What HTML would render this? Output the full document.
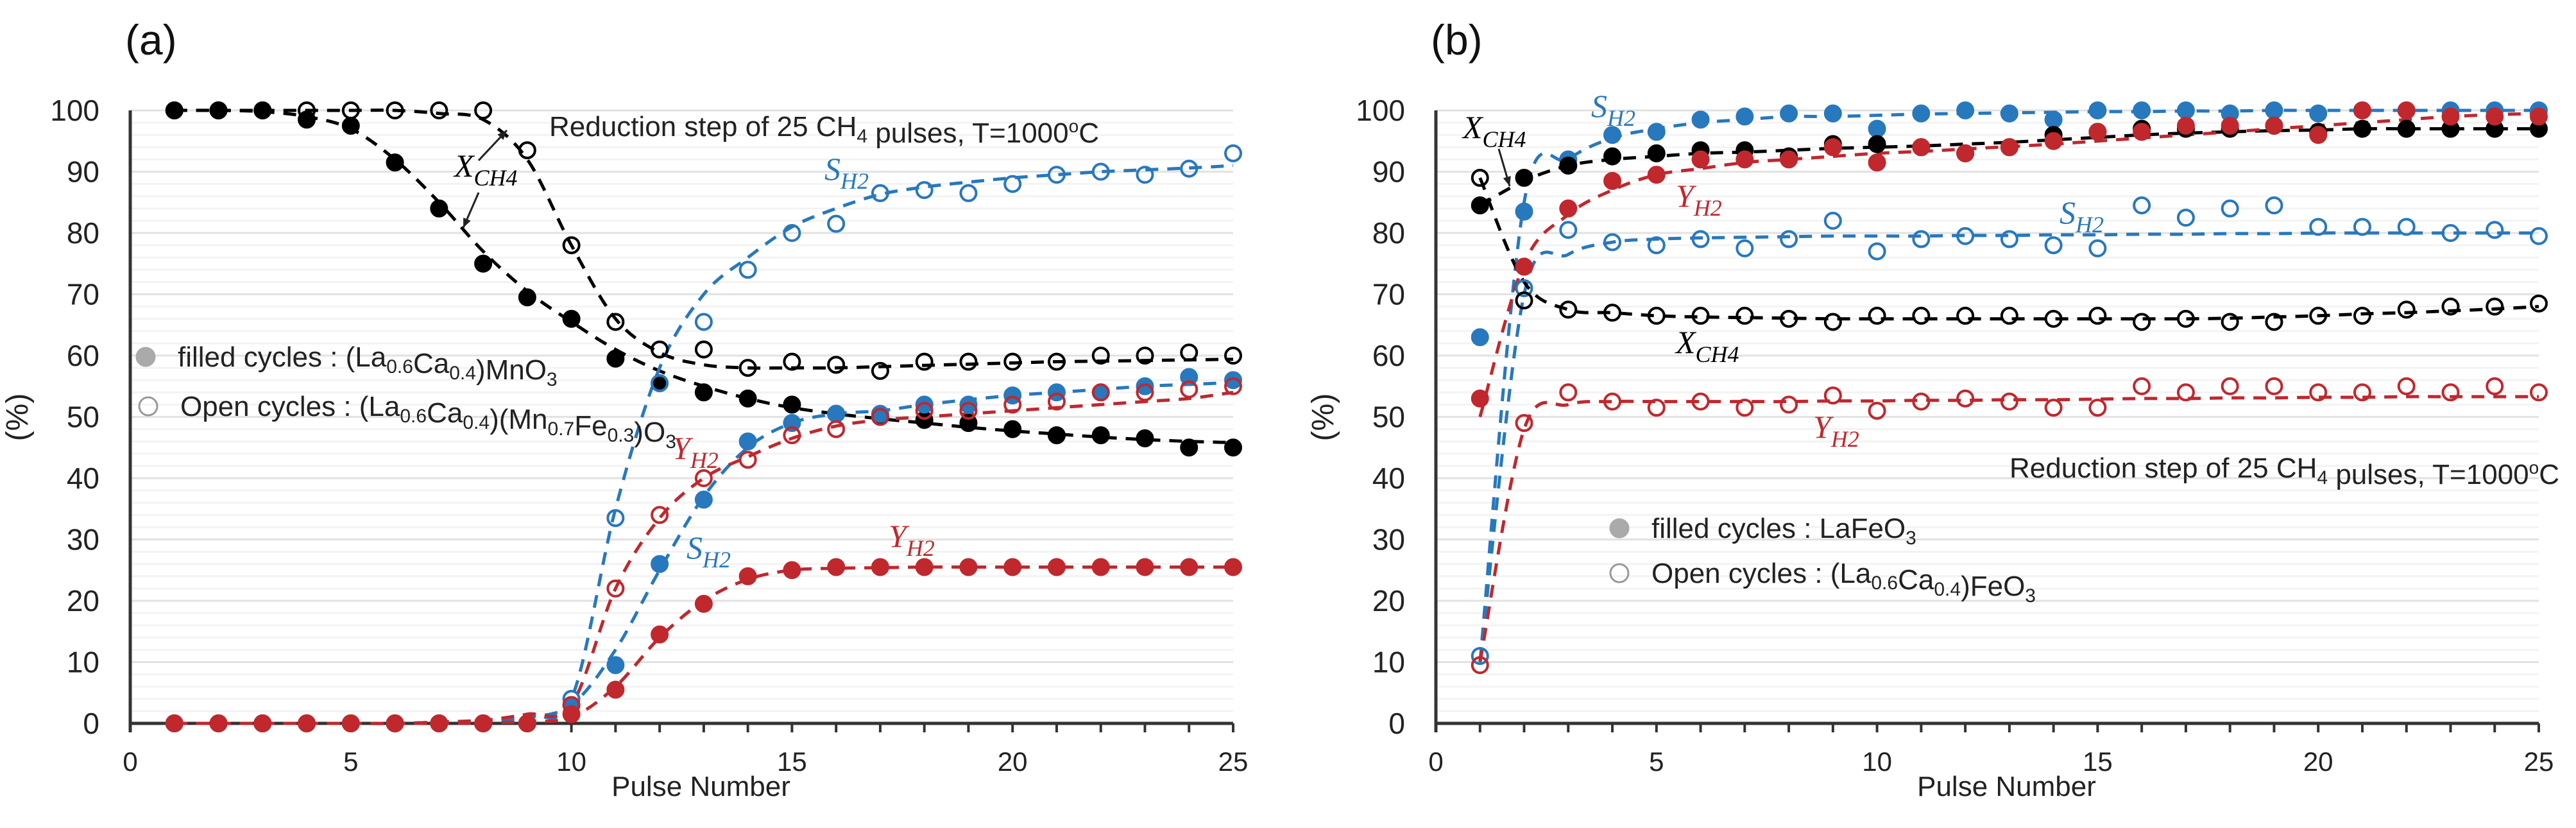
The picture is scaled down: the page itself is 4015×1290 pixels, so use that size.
<!DOCTYPE html>
<html><head><meta charset="utf-8"><style>
html,body{margin:0;padding:0;background:#fff;}
svg{display:block;font-family:"Liberation Sans",sans-serif;}
</style></head><body>
<svg id="chart" width="4015" height="1290" viewBox="0 0 4015 1290" xmlns="http://www.w3.org/2000/svg"></svg>
<script>
const pulses=[1,2,3,4,5,6,7,8,9,10,11,12,13,14,15,16,17,18,19,20,21,22,23,24,25];
const xTicks=[0,5,10,15,20,25];
const yTicks=[0,10,20,30,40,50,60,70,80,90,100];
// Panel (a)
const aXF=[100,100,100,98.5,97.5,91.5,84,75,69.5,66,59.5,55.5,54,53,52,50.5,50,49.5,49,48,47,47,46.5,45,45];
const aXO=[100,100,100,100,100,100,100,100,93.5,78,65.5,61,61,58,59,58.5,57.5,59,59,59,59,60,60,60.5,60];
const aSF=[0,0,0,0,0,0,0,0,0,3,9.5,26,36.5,46,49,50.5,50.5,52,52,53.5,54,54,55,56.5,56];
const aSO=[0,0,0,0,0,0,0,0,0,4,33.5,55.5,65.5,74,80,81.5,86.5,87,86.5,88,89.5,90,89.5,90.5,93];
const aYF=[0,0,0,0,0,0,0,0,0,1.5,5.5,14.5,19.5,24,25,25.5,25.5,25.5,25.5,25.5,25.5,25.5,25.5,25.5,25.5];
const aYO=[0,0,0,0,0,0,0,0,0,3,22,34,40,43,47,48,50,51,51,52,52.5,54,54,54.5,55];
const aXFfit=[100,100,99.8,99,97,92,85,77,70.5,65.5,61,57.5,55,53,51.5,50.5,49.7,49,48.3,47.7,47.2,46.7,46.3,46,45.8];
const aXOfit=[100,100,100,100,100,100,99.5,98.5,92,78,66,60.5,58.5,58,58,58,58.2,58.4,58.6,58.8,59,59.1,59.2,59.3,59.4];
const aSFfit=[0,0,0,0,0,0,0.2,0.5,1,3,12,25,37,45,49,50.5,51,52,52.8,53.5,54,54.5,55,55.3,55.6];
const aSOfit=[0,0,0,0,0,0,0.2,0.5,1.5,4,35,58,70,76,81,84,86.3,87.5,88.3,89,89.5,90,90.3,90.6,91];
const aYFfit=[0,0,0,0,0,0,0,0.1,0.3,1,6,14,20,23.5,25,25.3,25.4,25.5,25.5,25.5,25.5,25.5,25.5,25.5,25.5];
const aYOfit=[0,0,0,0,0,0,0.2,0.5,1.5,3,22,33.5,40,43.5,46.5,48.5,49.5,50,50.5,51,51.5,52,52.5,53,54];
// Panel (b)
const bSF=[63,83.5,92,96,96.5,98.5,99,99.5,99.5,97,99.5,100,99.5,98.5,100,100,100,99.5,100,99.5,100,100,100,100,100];
const bSO=[11,71,80.5,78.5,78,79,77.5,79,82,77,79,79.5,79,78,77.5,84.5,82.5,84,84.5,81,81,81,80,80.5,79.5];
const bXF=[84.5,89,91,92.5,93,93.5,93.5,92.5,94.5,94.5,94,93,94,96,96.5,97,97,97,97.5,96.5,97,97,97,97,97];
const bXO=[89,69,67.5,67,66.5,66.5,66.5,66,65.5,66.5,66.5,66.5,66.5,66,66.5,65.5,66,65.5,65.5,66.5,66.5,67.5,68,68,68.5];
const bYF=[53,74.5,84,88.5,89.5,92,92,92,94,91.5,94,93,94,95,96.5,96.5,97.5,97.5,97.5,96,100,100,99,99,99];
const bYO=[9.5,49,54,52.5,51.5,52.5,51.5,52,53.5,51,52.5,53,52.5,51.5,51.5,55,54,55,55,54,54,55,54,55,54];
const bSFfit=[10,85,92,95.5,97,98,98.5,99,99,99.2,99.4,99.5,99.6,99.7,99.8,99.8,99.9,99.9,100,100,100,100,100,100,100];
const bSOfit=[10,70,76.5,78.5,79,79.2,79.3,79.4,79.5,79.5,79.5,79.6,79.6,79.7,79.7,79.8,79.8,79.9,79.9,80,80,80,80,80,80];
const bXFfit=[84.5,88.5,91,92,92.5,93,93.2,93.5,93.8,94,94.2,94.5,94.8,95.2,95.6,96,96.3,96.5,96.7,96.8,97,97,97,97,97];
const bXOfit=[89,72,67.5,67,66.5,66.3,66.2,66.1,66,66,66,66,66,66,66,66,66,66.1,66.3,66.5,66.8,67,67.3,67.6,68];
const bYFfit=[50,75,83,87,89.5,90.5,91.5,92,92.5,93,93.3,93.7,94.1,94.5,95,95.5,96,96.5,97,97.5,98,98.5,99,99.3,99.5];
const bYOfit=[10,48,52,52.5,52.5,52.5,52.5,52.5,52.6,52.6,52.7,52.7,52.8,52.8,52.9,53,53,53.1,53.1,53.2,53.2,53.3,53.3,53.3,53.3];

const NS="http://www.w3.org/2000/svg";
const svg=document.getElementById('chart');
const Y0=1127,Y100=172;
function sy(v){return Y0-(v/100)*(Y0-Y100);}
function mkX(x0,x25){return v=>x0+(v/25)*(x25-x0);}
function el(tag,attrs,parent){const e=document.createElementNS(NS,tag);for(const k in attrs)e.setAttribute(k,attrs[k]);(parent||svg).appendChild(e);return e;}
const BLK="#000",BLU="#2878bd",RED="#c0282e";

function smoothPath(sx,vals){
  const pts=pulses.map((p,i)=>[sx(p),sy(vals[i])]);
  let d="M"+pts[0][0]+","+pts[0][1];
  for(let i=0;i<pts.length-1;i++){
    const p0=pts[Math.max(0,i-1)],p1=pts[i],p2=pts[i+1],p3=pts[Math.min(pts.length-1,i+2)];
    const c1=[p1[0]+(p2[0]-p0[0])/6,p1[1]+(p2[1]-p0[1])/6];
    const c2=[p2[0]-(p3[0]-p1[0])/6,p2[1]-(p3[1]-p1[1])/6];
    d+=" C"+c1[0]+","+c1[1]+" "+c2[0]+","+c2[1]+" "+p2[0]+","+p2[1];
  }
  return d;
}

function panel(id,x0,x25,series,label){
  const sx=mkX(x0,x25);
  const g=el('g',{});
  
  
  for(let v=2;v<=100;v+=2){
    const gl=el('line',{x1:x0,x2:x25,y1:sy(v),y2:sy(v),stroke:(v%10===0)?'#e2e2e2':'#f3f3f3','stroke-width':3},g);
    
    
  }
  const ya=el('line',{x1:x0,x2:x0,y1:Y100,y2:Y0+14,stroke:'#333','stroke-width':5},g);
  
  
  const xa=el('line',{x1:x0,x2:x25,y1:Y0,y2:Y0,stroke:'#333','stroke-width':5},g);
  
  
  for(const p of pulses){
    const t=el('line',{x1:sx(p),x2:sx(p),y1:Y0,y2:Y0+14,stroke:'#333','stroke-width':4},g);
    
    
  }
  for(const v of xTicks){
    const t=el('text',{x:sx(v),y:1201,'text-anchor':'middle','font-size':42,fill:'#222'},g);
    t.textContent=v;
    
    
  }
  for(const v of yTicks){
    const t=el('text',{x:x0-48,y:sy(v)+16,'text-anchor':'end','font-size':46,fill:'#222'},g);
    t.textContent=v;
    
    
  }
  const xt=el('text',{x:(x0+x25)/2+30,y:1240,'text-anchor':'middle','font-size':44,fill:'#222'},g);
  xt.textContent='Pulse Number';
  
  
  const ytx=x0-160;
  const yt=el('text',{x:ytx,y:650,'text-anchor':'middle','font-size':48,fill:'#222',transform:'rotate(-90 '+ytx+' 650)'},g);
  yt.textContent='(%)';
  
  
  const pl=el('text',{x:x0-8,y:85,'font-size':66,fill:'#111'},g);
  pl.textContent=label;
  
  
  for(const s of series){
    const path=el('path',{d:smoothPath(sx,s.fit),fill:'none',stroke:s.color,'stroke-width':5,'stroke-dasharray':'20 14'},g);
    
    
  }
  for(const s of series){
    s.vals.forEach((v,i)=>{
      const c=el('circle',{cx:sx(pulses[i]),cy:sy(v),r:s.filled?13:12,fill:s.filled?s.color:'none',stroke:s.color,'stroke-width':s.filled?2:4},g);
      
      
    });
  }
  return {g,sx};
}

function mathLabel(g,x,y,main,sub,color,name){
  const t=el('text',{x:x,y:y,'font-family':'"Liberation Serif",serif','font-style':'italic','font-size':50,fill:color},g);
  const a=el('tspan',{},t);a.textContent=main;
  const b=el('tspan',{'font-size':36,dy:14},t);b.textContent=sub;
  
  
}
function plainText(g,x,y,html,name,size,anchor){
  const t=el('text',{x:x,y:y,'font-size':size||44,fill:'#222','text-anchor':anchor||'start'},g);
  t.innerHTML=html;
  
  
}
function arrow(g,x1,y1,x2,y2,name){
  const l=el('line',{x1,y1,x2,y2,stroke:'#222','stroke-width':3},g);
  
  
  const ang=Math.atan2(y2-y1,x2-x1),L=16;
  const p=[[x2,y2],[x2-L*Math.cos(ang-0.4),y2-L*Math.sin(ang-0.4)],[x2-L*Math.cos(ang+0.4),y2-L*Math.sin(ang+0.4)]];
  const h=el('polygon',{points:p.map(q=>q.join(',')).join(' '),fill:'#222'},g);
  
  
}
function legend(g,x,y,filled,html){
  const c=el('circle',{cx:x,cy:y,r:14,fill:filled?'#aaa':'none',stroke:filled?'#aaa':'#999','stroke-width':3},g);
  
  
  plainText(g,x+50,y+15,html,filled?'legend-filled-entry':'legend-open-entry',44);
}
const SUB=(t)=>'<tspan font-size="30" dy="10">'+t+'</tspan><tspan dy="-10"></tspan>';

const A=panel('a',203,1922,[
 {name:'a-xch4-filled',vals:aXF,fit:aXFfit,color:BLK,filled:true},
 {name:'a-xch4-open',vals:aXO,fit:aXOfit,color:BLK,filled:false},
 {name:'a-sh2-filled',vals:aSF,fit:aSFfit,color:BLU,filled:true},
 {name:'a-sh2-open',vals:aSO,fit:aSOfit,color:BLU,filled:false},
 {name:'a-yh2-filled',vals:aYF,fit:aYFfit,color:RED,filled:true},
 {name:'a-yh2-open',vals:aYO,fit:aYOfit,color:RED,filled:false}
],'(a)');
plainText(A.g,856,212,'Reduction step of 25 CH'+SUB('4')+' pulses, T=1000<tspan font-size="28" dy="-16">o</tspan><tspan dy="16">C</tspan>','annotation-conditions',44);
mathLabel(A.g,708,275,'X','CH4',BLK,'label-xch4');
arrow(A.g,746,250,790,203,'arrow-xch4-open');
arrow(A.g,746,300,722,355,'arrow-xch4-filled');
mathLabel(A.g,1285,280,'S','H2',BLU,'label-sh2-open');
mathLabel(A.g,1048,715,'Y','H2',RED,'label-yh2-open');
mathLabel(A.g,1070,870,'S','H2',BLU,'label-sh2-filled');
mathLabel(A.g,1385,852,'Y','H2',RED,'label-yh2-filled');
legend(A.g,227,556,true,'filled cycles : (La'+SUB('0.6')+'Ca'+SUB('0.4')+')MnO'+SUB('3'));
legend(A.g,231,633,false,'Open cycles : (La'+SUB('0.6')+'Ca'+SUB('0.4')+')(Mn'+SUB('0.7')+'Fe'+SUB('0.3')+')O'+SUB('3'));

const B=panel('b',2238,3957,[
 {name:'b-sh2-filled',vals:bSF,fit:bSFfit,color:BLU,filled:true},
 {name:'b-sh2-open',vals:bSO,fit:bSOfit,color:BLU,filled:false},
 {name:'b-xch4-filled',vals:bXF,fit:bXFfit,color:BLK,filled:true},
 {name:'b-xch4-open',vals:bXO,fit:bXOfit,color:BLK,filled:false},
 {name:'b-yh2-filled',vals:bYF,fit:bYFfit,color:RED,filled:true},
 {name:'b-yh2-open',vals:bYO,fit:bYOfit,color:RED,filled:false}
],'(b)');
plainText(B.g,3989,744,'Reduction step of 25 CH'+SUB('4')+' pulses, T=1000<tspan font-size="28" dy="-16">o</tspan><tspan dy="16">C</tspan>','annotation-conditions',44,'end');
mathLabel(B.g,2280,215,'X','CH4',BLK,'label-xch4-top');
arrow(B.g,2336,232,2353,290,'arrow-xch4');
mathLabel(B.g,2480,182,'S','H2',BLU,'label-sh2-filled');
mathLabel(B.g,2612,322,'Y','H2',RED,'label-yh2-filled');
mathLabel(B.g,3210,348,'S','H2',BLU,'label-sh2-open');
mathLabel(B.g,2612,550,'X','CH4',BLK,'label-xch4-open');
mathLabel(B.g,2826,682,'Y','H2',RED,'label-yh2-open');
legend(B.g,2524,823,true,'filled cycles : LaFeO'+SUB('3'));
legend(B.g,2524,893,false,'Open cycles : (La'+SUB('0.6')+'Ca'+SUB('0.4')+')FeO'+SUB('3'));
</script>
</body></html>
